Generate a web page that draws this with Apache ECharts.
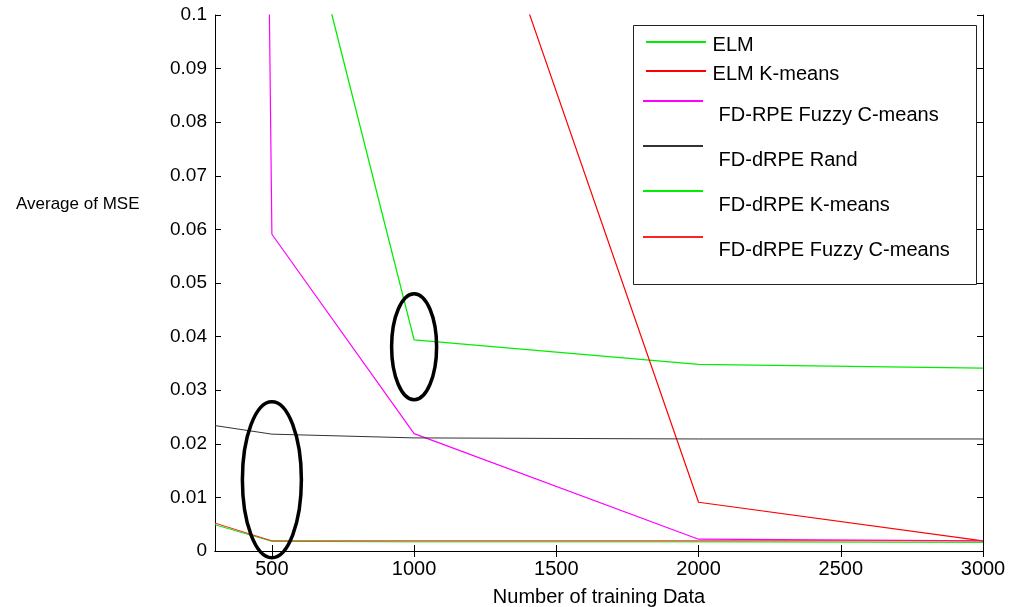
<!DOCTYPE html>
<html>
<head>
<meta charset="utf-8">
<script src="https://cdn.jsdelivr.net/npm/echarts@6/dist/echarts.min.js"></script>
<style>html,body{margin:0;padding:0;background:#fff}#c{width:1009px;height:607px}</style>
</head>
<body>
<div id="c"></div>
<script>
const trainingSizes = [300, 500, 1000, 2000, 3000];
const xTickValues = [500, 1000, 1500, 2000, 2500, 3000];
const elm = [0.22, 0.1443, 0.0394, 0.0348, 0.0341];
const elmKmeans = [0.34, 0.24, 0.1623, 0.0091, 0.0019];
const fdRpeFuzzy = [1.0, 0.0591, 0.0219, 0.0022, 0.0019];
const fdDrpeRand = [0.0234, 0.0218, 0.0211, 0.0209, 0.0209];
const fdDrpeKmeans = [0.0049, 0.0018, 0.0017, 0.0017, 0.0016];
const fdDrpeFuzzy = [0.0052, 0.0019, 0.0019, 0.0019, 0.0019];
const ellipseCenters = [[1000, 0.0381], [500, 0.0133]];

const FONT = 'Liberation Sans, Arial, Helvetica, sans-serif';
const chart = echarts.init(document.getElementById('c'));
const pair = arr => trainingSizes.map((x, i) => [x, arr[i]]);

const seriesDefs = [
  {name: 'ELM', data: elm, color: '#00ee00', width: 1.3},
  {name: 'ELM K-means', data: elmKmeans, color: '#ff0000', width: 1.2},
  {name: 'FD-RPE Fuzzy C-means', data: fdRpeFuzzy, color: '#ff00ff', width: 1.2},
  {name: 'FD-dRPE Rand', data: fdDrpeRand, color: '#333333', width: 1},
  {name: 'FD-dRPE K-means', data: fdDrpeKmeans, color: '#00ee00', width: 1},
  {name: 'FD-dRPE Fuzzy C-means', data: fdDrpeFuzzy, color: '#ff2222', width: 1}
];

// legend layout: icon line (left, y) and text (left, center y)
const legendIcon = [[645, 42], [645, 71], [642, 101], [642, 146], [642, 191], [642, 237]];
const legendText = [[712, 43], [712, 72], [718, 113], [718, 158], [718, 203], [718, 248]];

const axisCommon = {
  axisLine: {show: true, lineStyle: {color: '#000', width: 1}},
  splitLine: {show: false},
  axisTick: {show: true, inside: true, length: 6, lineStyle: {color: '#000'}}
};

const iconLegends = seriesDefs.map((s, i) => ({
  data: [s.name], left: legendIcon[i][0], top: legendIcon[i][1] - 7,
  itemWidth: 60, itemHeight: 14, selectedMode: false, padding: 0, z: 5,
  itemStyle: {opacity: 0}, formatter: () => '',
  textStyle: {fontSize: 1}
}));
const textLegends = seriesDefs.map((s, i) => ({
  data: [s.name], left: legendText[i][0] - 10, top: legendText[i][1] - 8,
  itemWidth: 0, itemHeight: 14, selectedMode: false, padding: 0, z: 5,
  itemStyle: {opacity: 0}, lineStyle: {opacity: 0},
  textStyle: {fontFamily: FONT, fontSize: 20, color: '#000'}
}));

chart.setOption({
  animation: false,
  backgroundColor: '#fff',
  grid: {left: 215, right: 26, top: 15, bottom: 56, containLabel: false, outerBoundsMode: 'none'},
  title: {
    text: 'Average of MSE', left: 11, top: 191,
    textStyle: {fontFamily: FONT, fontSize: 17, fontWeight: 'normal', color: '#000'}
  },
  legend: iconLegends.concat(textLegends),
  xAxis: [
    Object.assign({}, axisCommon, {
      type: 'value', min: 300, max: 3000, position: 'bottom',
      name: 'Number of training Data', nameLocation: 'middle', nameGap: 36,
      nameTextStyle: {fontFamily: FONT, fontSize: 20, color: '#000'},
      axisLabel: {customValues: xTickValues, formatter: v => String(v), fontFamily: FONT, fontSize: 20, color: '#000', margin: 8},
      axisTick: Object.assign({}, axisCommon.axisTick, {customValues: xTickValues})
    }),
    Object.assign({}, axisCommon, {
      type: 'value', min: 300, max: 3000, position: 'top',
      axisLabel: {show: false, customValues: xTickValues},
      axisTick: Object.assign({}, axisCommon.axisTick, {customValues: xTickValues})
    })
  ],
  yAxis: [
    Object.assign({}, axisCommon, {
      type: 'value', min: 0, max: 0.1, interval: 0.01, position: 'left',
      axisLabel: {fontFamily: FONT, fontSize: 19, color: '#000', margin: 8}
    }),
    Object.assign({}, axisCommon, {
      type: 'value', min: 0, max: 0.1, interval: 0.01, position: 'right',
      axisLabel: {show: false}
    })
  ],
  series: seriesDefs.map(s => ({
    name: s.name, type: 'line', data: pair(s.data), symbol: 'none', showSymbol: false,
    clip: true, color: s.color,
    lineStyle: {color: s.color, width: s.width}, itemStyle: {color: s.color},
    emphasis: {disabled: true}
  }))
});

const centers = ellipseCenters.map(c => chart.convertToPixel({xAxisIndex: 0, yAxisIndex: 0}, c));
const radii = [[22.5, 53], [29.5, 78]];
chart.setOption({
  graphic: [
    {type: 'rect', left: 633, top: 25, z: 4, silent: true,
     shape: {width: 343, height: 259}, style: {fill: '#fff', stroke: '#222', lineWidth: 1}}
  ].concat(centers.map((p, i) => ({
    type: 'ellipse', z: 6, silent: true,
    shape: {cx: p[0], cy: p[1], rx: radii[i][0], ry: radii[i][1]},
    style: {fill: 'none', stroke: '#000', lineWidth: 3.5}
  })))
});
</script>
</body>
</html>
